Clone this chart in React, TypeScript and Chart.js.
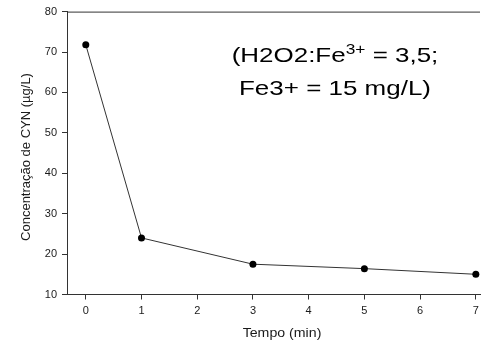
import React, { useEffect, useRef } from "react";
import { Chart, registerables } from "chart.js";

Chart.register(...registerables);

const timeMin = [0, 1, 3, 5, 7];
const cynValues = [71.8, 24.0, 17.5, 16.4, 15.0];
const xTickValues = [0, 1, 2, 3, 4, 5, 6, 7];
const yTickValues = [10, 20, 30, 40, 50, 60, 70, 80];
const xTitle = "Tempo (min)";
const yTitle = "Concentração de CYN (µg/L)";
const noteLine1Parts = ["(H2O2:Fe", "3+", " = 3,5;"];
const noteLine2 = "Fe3+ = 15 mg/L)";

const FONT = "'Liberation Sans', Arial, sans-serif";
const AXIS_COLOR = "#333333";
const TEXT_COLOR = "#1a1a1a";

const overlayPlugin = {
  id: "overlay",
  afterDraw(chart: any) {
    const { ctx, chartArea } = chart;
    ctx.save();
    // top frame line
    ctx.strokeStyle = AXIS_COLOR;
    ctx.lineWidth = 1;
    ctx.beginPath();
    ctx.moveTo(chartArea.left, chartArea.top + 0.5);
    ctx.lineTo(chartArea.right, chartArea.top + 0.5);
    ctx.stroke();

    // x axis title
    ctx.fillStyle = TEXT_COLOR;
    ctx.font = `12px ${FONT}`;
    ctx.textAlign = "center";
    ctx.textBaseline = "middle";
    ctx.save();
    ctx.translate(282, 334);
    ctx.scale(1.18, 1);
    ctx.fillText(xTitle, 0, 0);
    ctx.restore();

    // y axis title
    ctx.save();
    ctx.translate(26, 157);
    ctx.rotate(-Math.PI / 2);
    ctx.font = `13px ${FONT}`;
    ctx.fillText(yTitle, 0, 0);
    ctx.restore();

    // annotation
    ctx.fillStyle = "#000000";
    ctx.textBaseline = "alphabetic";
    ctx.textAlign = "left";
    const big = `21px ${FONT}`;
    const small = `14px ${FONT}`;
    ctx.font = big;
    const w2 = ctx.measureText(noteLine2).width;
    const sx = 192 / w2;
    const cx = 335;
    // line 2
    ctx.save();
    ctx.translate(cx, 95);
    ctx.scale(sx, 1);
    ctx.textAlign = "center";
    ctx.fillText(noteLine2, 0, 0);
    ctx.restore();
    // line 1 with superscript
    ctx.font = big;
    const a = ctx.measureText(noteLine1Parts[0]).width;
    const c = ctx.measureText(noteLine1Parts[2]).width;
    ctx.font = small;
    const b = ctx.measureText(noteLine1Parts[1]).width;
    const total = a + b + c;
    ctx.save();
    ctx.translate(cx, 62);
    ctx.scale(sx, 1);
    let x0 = -total / 2;
    ctx.font = big;
    ctx.fillText(noteLine1Parts[0], x0, 0);
    x0 += a;
    ctx.font = small;
    ctx.fillText(noteLine1Parts[1], x0, -8);
    x0 += b;
    ctx.font = big;
    ctx.fillText(noteLine1Parts[2], x0, 0);
    ctx.restore();

    ctx.restore();
  },
};

export default function App() {
  const ref = useRef<HTMLCanvasElement | null>(null);

  useEffect(() => {
    if (!ref.current) return;
    const chart = new Chart(ref.current, {
      type: "line",
      data: {
        datasets: [
          {
            data: timeMin.map((t, i) => ({ x: t, y: cynValues[i] })),
            borderColor: "#333333",
            borderWidth: 1,
            pointRadius: 3.5,
            pointBackgroundColor: "#000000",
            pointBorderColor: "#000000",
            pointBorderWidth: 0,
            tension: 0,
            clip: false as any,
          },
        ],
      },
      options: {
        responsive: false,
        animation: false,
        devicePixelRatio: 1,
        layout: { padding: { top: 11, right: 0, left: 0, bottom: 0 } },
        plugins: {
          legend: { display: false },
          tooltip: { enabled: false },
        },
        scales: {
          x: {
            type: "linear",
            min: -0.337,
            max: 7.075,
            afterBuildTicks: (scale: any) => {
              scale.ticks = xTickValues.map((v) => ({ value: v }));
            },
            afterFit: (scale: any) => {
              scale.height = 47.5;
            },
            grid: {
              display: true,
              drawOnChartArea: false,
              drawTicks: true,
              tickLength: 5,
              color: AXIS_COLOR,
            },
            border: { display: true, color: AXIS_COLOR, width: 1 },
            ticks: {
              color: TEXT_COLOR,
              font: { family: FONT, size: 11 },
              padding: 5,
              maxRotation: 0,
              autoSkip: false,
            },
          },
          y: {
            type: "linear",
            min: 10,
            max: 80,
            afterBuildTicks: (scale: any) => {
              scale.ticks = yTickValues.map((v) => ({ value: v }));
            },
            afterFit: (scale: any) => {
              scale.width = 67;
            },
            grid: {
              display: true,
              drawOnChartArea: false,
              drawTicks: true,
              tickLength: 5,
              color: AXIS_COLOR,
            },
            border: { display: true, color: AXIS_COLOR, width: 1 },
            ticks: {
              color: TEXT_COLOR,
              font: { family: FONT, size: 11 },
              padding: 5,
              autoSkip: false,
            },
          },
        },
      },
      plugins: [overlayPlugin],
    });
    return () => chart.destroy();
  }, []);

  return (
    <div
      style={{
        position: "fixed",
        left: 0,
        top: 0,
        width: 484,
        height: 342,
        background: "#ffffff",
      }}
    >
      <canvas ref={ref} width={484} height={342} style={{ display: "block" }} />
    </div>
  );
}
